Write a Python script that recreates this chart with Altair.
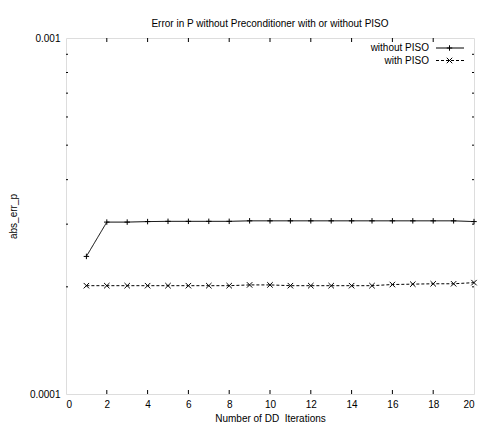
import altair as alt
import pandas as pd

# ---- data ----
iterations = list(range(1, 21))
without_piso = [2.435e-4, 3.04e-4, 3.04e-4, 3.05e-4, 3.055e-4, 3.055e-4, 3.055e-4,
                3.055e-4, 3.065e-4, 3.065e-4, 3.065e-4, 3.065e-4, 3.065e-4, 3.065e-4,
                3.065e-4, 3.065e-4, 3.065e-4, 3.065e-4, 3.065e-4, 3.05e-4]
with_piso = [2.015e-4, 2.015e-4, 2.015e-4, 2.015e-4, 2.015e-4, 2.015e-4, 2.015e-4,
             2.015e-4, 2.025e-4, 2.025e-4, 2.015e-4, 2.015e-4, 2.015e-4, 2.015e-4,
             2.015e-4, 2.03e-4, 2.035e-4, 2.04e-4, 2.04e-4, 2.055e-4]
series_names = ["without PISO", "with PISO"]
x_ticks = [0, 2, 4, 6, 8, 10, 12, 14, 16, 18, 20]
x_inner_ticks = [2, 4, 6, 8, 10, 12, 14, 16, 18]
y_labels = [0.0001, 0.001]
y_minor = [0.0002, 0.0003, 0.0004, 0.0005, 0.0006, 0.0007, 0.0008, 0.0009]

W, H = 408, 356
FONT = "Liberation Sans"
PLUS = "M-1,0H1M0,-1V1"
CROSS = "M-1,-1L1,1M-1,1L1,-1"

xs = alt.Scale(domain=[0, 20], nice=False, zero=False)
ys = alt.Scale(type="log", domain=[0.0001, 0.001], nice=False)

xaxis = alt.Axis(values=x_ticks, format="d", ticks=False, domain=False, grid=False,
                 labelPadding=5, title="Number of DD\u00a0 Iterations", titlePadding=4,
                 titleFontWeight="normal", titleFont=FONT, titleFontSize=10,
                 titleColor="black")
yaxis = alt.Axis(values=y_labels, format=".4~f", ticks=False, domain=False, grid=False,
                 labelPadding=6, title="abs_err_p", titlePadding=11,
                 titleFontWeight="normal", titleFont=FONT, titleFontSize=10,
                 titleColor="black")

df = pd.DataFrame({
    "iter": iterations * 2,
    "err": without_piso + with_piso,
    "series": [series_names[0]] * 20 + [series_names[1]] * 20,
})

base = alt.Chart(df)
layers = []
styles = [
    (series_names[0], [1, 0], PLUS),
    (series_names[1], [3, 2], CROSS),
]
for name, dash, shape in styles:
    sub = base.transform_filter(alt.datum.series == name)
    layers.append(sub.mark_line(color="black", strokeWidth=1, strokeDash=dash).encode(
        x=alt.X("iter:Q", scale=xs, axis=xaxis),
        y=alt.Y("err:Q", scale=ys, axis=yaxis),
    ))
    layers.append(sub.mark_point(shape=shape, filled=False, stroke="black", strokeWidth=1,
                                 size=30, opacity=1).encode(
        x=alt.X("iter:Q", scale=xs),
        y=alt.Y("err:Q", scale=ys),
    ))

# inward ticks (gnuplot style)
xt = alt.Chart(pd.DataFrame({"t": x_inner_ticks}))
layers.append(xt.mark_rule(color="black", strokeWidth=1).encode(
    x=alt.X("t:Q", scale=xs), y=alt.value(H), y2=alt.value(H - 4)))
layers.append(xt.mark_rule(color="black", strokeWidth=1).encode(
    x=alt.X("t:Q", scale=xs), y=alt.value(0), y2=alt.value(4)))
yt = alt.Chart(pd.DataFrame({"t": y_minor}))
layers.append(yt.mark_rule(color="black", strokeWidth=1).encode(
    y=alt.Y("t:Q", scale=ys), x=alt.value(0), x2=alt.value(2)))
layers.append(yt.mark_rule(color="black", strokeWidth=1).encode(
    y=alt.Y("t:Q", scale=ys), x=alt.value(W), x2=alt.value(W - 2)))

# key (top right, inside plot)
leg = alt.Chart(pd.DataFrame({"k": [0]}))
for i, (name, dash, shape) in enumerate(styles):
    yy = 10 + 12.5 * i
    layers.append(leg.mark_text(align="right", baseline="middle", font=FONT, fontSize=10,
                                color="black").encode(
        x=alt.value(W - 45), y=alt.value(yy), text=alt.value(name)))
    layers.append(leg.mark_rule(color="black", strokeWidth=1, strokeDash=dash).encode(
        x=alt.value(W - 38), x2=alt.value(W - 10), y=alt.value(yy)))
    layers.append(leg.mark_point(shape=shape, filled=False, stroke="black", strokeWidth=1,
                                 size=30, opacity=1).encode(
        x=alt.value(W - 24.5), y=alt.value(yy)))

chart = alt.layer(*layers).properties(
    width=W, height=H,
    title=alt.TitleParams("Error in P without Preconditioner with or without PISO",
                          font=FONT, fontSize=10, fontWeight="normal", color="black",
                          anchor="middle", offset=4),
    autosize=alt.AutoSizeParams(type="none"),
    padding={"left": 58, "top": 30, "right": 6, "bottom": 30},
).configure_view(stroke="black", strokeWidth=1).configure_axis(
    labelFont=FONT, labelFontSize=10, labelColor="black",
    titleFont=FONT, titleFontSize=10, titleFontWeight="normal", titleColor="black",
).configure(background="white")

chart.save("out.html", embed_options={"renderer": "svg", "actions": False})
